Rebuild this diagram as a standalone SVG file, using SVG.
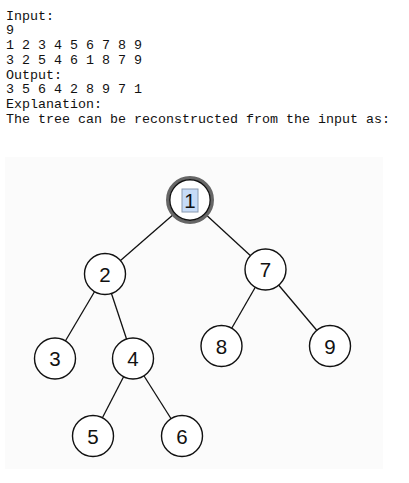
<svg xmlns="http://www.w3.org/2000/svg" width="409" height="483" viewBox="0 0 409 483">
<style>
.mono{font-family:"Liberation Mono","Courier New",monospace;font-size:13.33px;fill:#111}
.node circle{fill:#fff;stroke:#111;stroke-width:1.4}
.node text{font-family:"Liberation Sans",Arial,sans-serif;font-size:20.5px;fill:#111;text-anchor:middle}
.edges line{stroke:#111;stroke-width:1.3}
</style>
<rect width="409" height="483" fill="#fff"/>
<g id="text">
<text class="mono" x="6" y="19.5">Input:</text>
<text class="mono" x="6" y="34.3">9</text>
<text class="mono" x="6" y="49" xml:space="preserve">1 2 3 4 5 6 7 8 9</text>
<text class="mono" x="6" y="63.8" xml:space="preserve">3 2 5 4 6 1 8 7 9</text>
<text class="mono" x="6" y="78.6">Output:</text>
<text class="mono" x="6" y="93.4" xml:space="preserve">3 5 6 4 2 8 9 7 1</text>
<text class="mono" x="6" y="108.2">Explanation:</text>
<text class="mono" x="6" y="123" xml:space="preserve">The tree can be reconstructed from the input as:</text>
</g>
<rect x="5" y="157" width="378" height="312" fill="#fbfbfb"/>
<g class="edges" id="connectors">
<line x1="190" y1="200" x2="105" y2="274"/>
<line x1="190" y1="200" x2="265.5" y2="269.5"/>
<line x1="105" y1="274" x2="55" y2="358.5"/>
<line x1="105" y1="274" x2="133" y2="358.5"/>
<line x1="133" y1="358.5" x2="93" y2="436"/>
<line x1="133" y1="358.5" x2="182" y2="436"/>
<line x1="265.5" y1="269.5" x2="221.5" y2="346"/>
<line x1="265.5" y1="269.5" x2="330" y2="346"/>
</g>
<g class="node" id="n1">
<circle cx="190" cy="200" r="22.3" style="stroke:#666;stroke-width:3.4"/>
<circle cx="190" cy="200" r="20.2" style="fill:#fff;stroke:#111;stroke-width:1.4"/>
<rect x="182" y="189" width="16" height="23" fill="#c6dbf7" stroke="#8a9ab0" stroke-width="1"/>
<text x="190" y="207.5">1</text>
</g>
<g class="node" id="n2"><circle cx="105" cy="274" r="20.5"/><text x="105" y="281.5">2</text></g>
<g class="node" id="n3"><circle cx="55" cy="358.5" r="20.5"/><text x="55" y="366">3</text></g>
<g class="node" id="n4"><circle cx="133" cy="358.5" r="20.5"/><text x="133" y="366">4</text></g>
<g class="node" id="n5"><circle cx="93" cy="436" r="20.5"/><text x="93" y="443.5">5</text></g>
<g class="node" id="n6"><circle cx="182" cy="436" r="20.5"/><text x="182" y="443.5">6</text></g>
<g class="node" id="n7"><circle cx="265.5" cy="269.5" r="20.5"/><text x="265.5" y="277">7</text></g>
<g class="node" id="n8"><circle cx="221.5" cy="346" r="20.5"/><text x="221.5" y="353.5">8</text></g>
<g class="node" id="n9"><circle cx="330" cy="346" r="20.5"/><text x="330" y="353.5">9</text></g>
</svg>
